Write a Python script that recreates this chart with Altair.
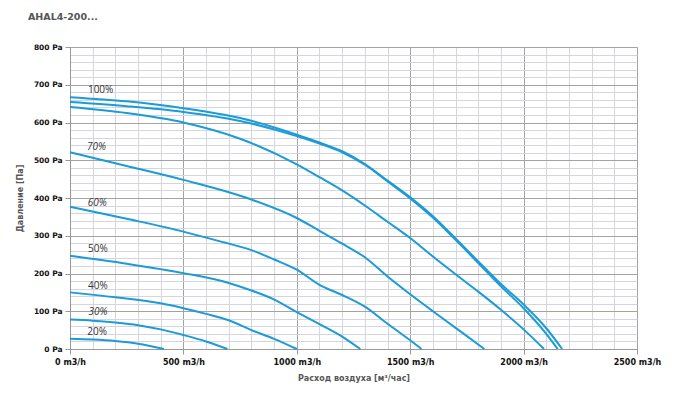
import altair as alt
import pandas as pd

# ---- data ----
curve_A_x = [0, 250, 500, 750, 1000, 1100, 1200, 1300, 1400, 1500, 1600, 1700, 1800, 1900, 2000, 2100, 2170]
curve_A_y = [667, 656, 638, 612, 568, 547, 524, 490, 446, 402, 352, 293, 232, 172, 118, 55, 0]
curve_B_x = [0, 250, 500, 750, 1000, 1100, 1200, 1300, 1400, 1500, 1600, 1700, 1800, 1900, 2000, 2100, 2150]
curve_B_y = [654, 643, 628, 604, 564, 544, 521, 488, 444, 399, 348, 289, 228, 166, 108, 40, 0]
curve_C_x = [0, 250, 500, 750, 1000, 1100, 1200, 1300, 1400, 1500, 1600, 1700, 1800, 1900, 2000, 2090]
curve_C_y = [641, 625, 600, 557, 489, 455, 420, 380, 337, 294, 245, 198, 152, 104, 52, 0]
curve_70_x = [0, 250, 500, 800, 1000, 1100, 1200, 1300, 1400, 1500, 1600, 1700, 1800, 1827]
curve_70_y = [521, 485, 448, 396, 347, 313, 279, 243, 192, 145, 100, 56, 12, 0]
curve_60_x = [0, 250, 500, 650, 800, 900, 1000, 1100, 1200, 1300, 1400, 1500, 1550]
curve_60_y = [377, 345, 311, 287, 262, 237, 210, 170, 143, 112, 67, 23, 0]
curve_50_x = [0, 250, 500, 700, 800, 900, 1000, 1100, 1200, 1280]
curve_50_y = [247, 226, 201, 175, 155, 131, 98, 66, 33, 0]
curve_40_x = [0, 200, 400, 500, 600, 700, 800, 900, 1000]
curve_40_y = [150, 137, 121, 108, 93, 76, 50, 27, 0]
curve_30_x = [0, 100, 200, 300, 400, 500, 600, 694]
curve_30_y = [78, 75, 70, 63, 52, 37, 20, 0]
curve_20_x = [0, 100, 200, 300, 414]
curve_20_y = [27, 25, 21, 14, 0]

label_text = ["100%", "70%", "60%", "50%", "40%", "30%", "20%"]
label_x = [135, 117, 120, 123, 123, 123, 120]
label_y = [687, 534, 388, 264, 168, 97, 44]
label_italic = [False, True, True, False, False, True, False]

curves = {
    "A": (curve_A_x, curve_A_y),
    "B": (curve_B_x, curve_B_y),
    "C": (curve_C_x, curve_C_y),
    "70": (curve_70_x, curve_70_y),
    "60": (curve_60_x, curve_60_y),
    "50": (curve_50_x, curve_50_y),
    "40": (curve_40_x, curve_40_y),
    "30": (curve_30_x, curve_30_y),
    "20": (curve_20_x, curve_20_y),
}

rows = []
for name, (xs, ys) in curves.items():
    for i, (a, b) in enumerate(zip(xs, ys)):
        rows.append({"curve": name, "order": i, "flow": a, "pressure": b})
df = pd.DataFrame(rows)

labels = pd.DataFrame({"text": label_text, "flow": label_x, "pressure": label_y, "italic": label_italic})

MAJOR_GRID = "#a3a3a3"
MINOR_GRID = "#d5d5dd"
LINE = "#1B9BD7"
FONT = "DejaVu Sans"

x_axis = alt.Axis(
    values=list(range(0, 2501, 100)),
    labelExpr="datum.value % 500 === 0 ? datum.value + ' m3/h' : ''",
    gridColor={"condition": {"test": "datum.value % 500 === 0", "value": MAJOR_GRID}, "value": MINOR_GRID},
    tickColor={"condition": {"test": "datum.value % 500 === 0", "value": "#999999"}, "value": "transparent"},
    tickSize=5,
    labelOverlap=False,
    labelFlush=False,
    labelFont=FONT,
    labelFontSize=8,
    labelFontWeight="bold",
    labelColor="#111111",
    labelPadding=4,
    title="Расход воздуха [м³/час]",
    titleFont=FONT,
    titleFontSize=8,
    titleFontWeight="bold",
    titleColor="#555555",
    titlePadding=8,
    domainColor="#999999",
)

y_axis = alt.Axis(
    values=list(range(0, 801, 20)),
    labelExpr="datum.value % 100 === 0 ? datum.value + ' Pa' : ''",
    gridColor={"condition": {"test": "datum.value % 100 === 0", "value": MAJOR_GRID}, "value": MINOR_GRID},
    tickColor={"condition": {"test": "datum.value % 100 === 0", "value": "#999999"}, "value": "transparent"},
    tickSize=5,
    labelOverlap=False,
    labelFont=FONT,
    labelFontSize=7.5,
    labelFontWeight="bold",
    labelColor="#111111",
    labelPadding=3,
    title="Давление [Па]",
    titleFont=FONT,
    titleFontSize=8,
    titleFontWeight="bold",
    titleColor="#555555",
    titlePadding=9,
    domainColor="#999999",
)

x_enc = alt.X("flow:Q", scale=alt.Scale(domain=[0, 2500], nice=False, zero=True), axis=x_axis)
y_enc = alt.Y("pressure:Q", scale=alt.Scale(domain=[0, 800], nice=False), axis=y_axis)

lines = alt.Chart(df).mark_line(color=LINE, strokeWidth=2, interpolate="monotone").encode(
    x=x_enc, y=y_enc, detail="curve:N", order="order:Q"
)

text_up = alt.Chart(labels).transform_filter("!datum.italic").mark_text(
    font="Open Sans", fontSize=10, color="#333333"
).encode(x=x_enc, y=y_enc, text="text:N")

text_it = alt.Chart(labels).transform_filter("datum.italic").mark_text(
    font="Open Sans", fontSize=10, color="#333333", fontStyle="italic"
).encode(x=x_enc, y=y_enc, text="text:N")

chart = alt.layer(lines, text_up, text_it).properties(
    width=567,
    height=302,
    autosize="none",
    padding={"left": 70, "top": 47, "right": 37, "bottom": 56},
    title=alt.TitleParams(
        "AHAL4-200...",
        anchor="start",
        frame="group",
        dx=-42,
        offset=22,
        font=FONT,
        fontSize=9.5,
        fontWeight="bold",
        color="#555555",
    ),
).configure_view(strokeWidth=0).configure(background="white")

chart.save("out.html", embed_options={"renderer": "svg", "actions": False})
